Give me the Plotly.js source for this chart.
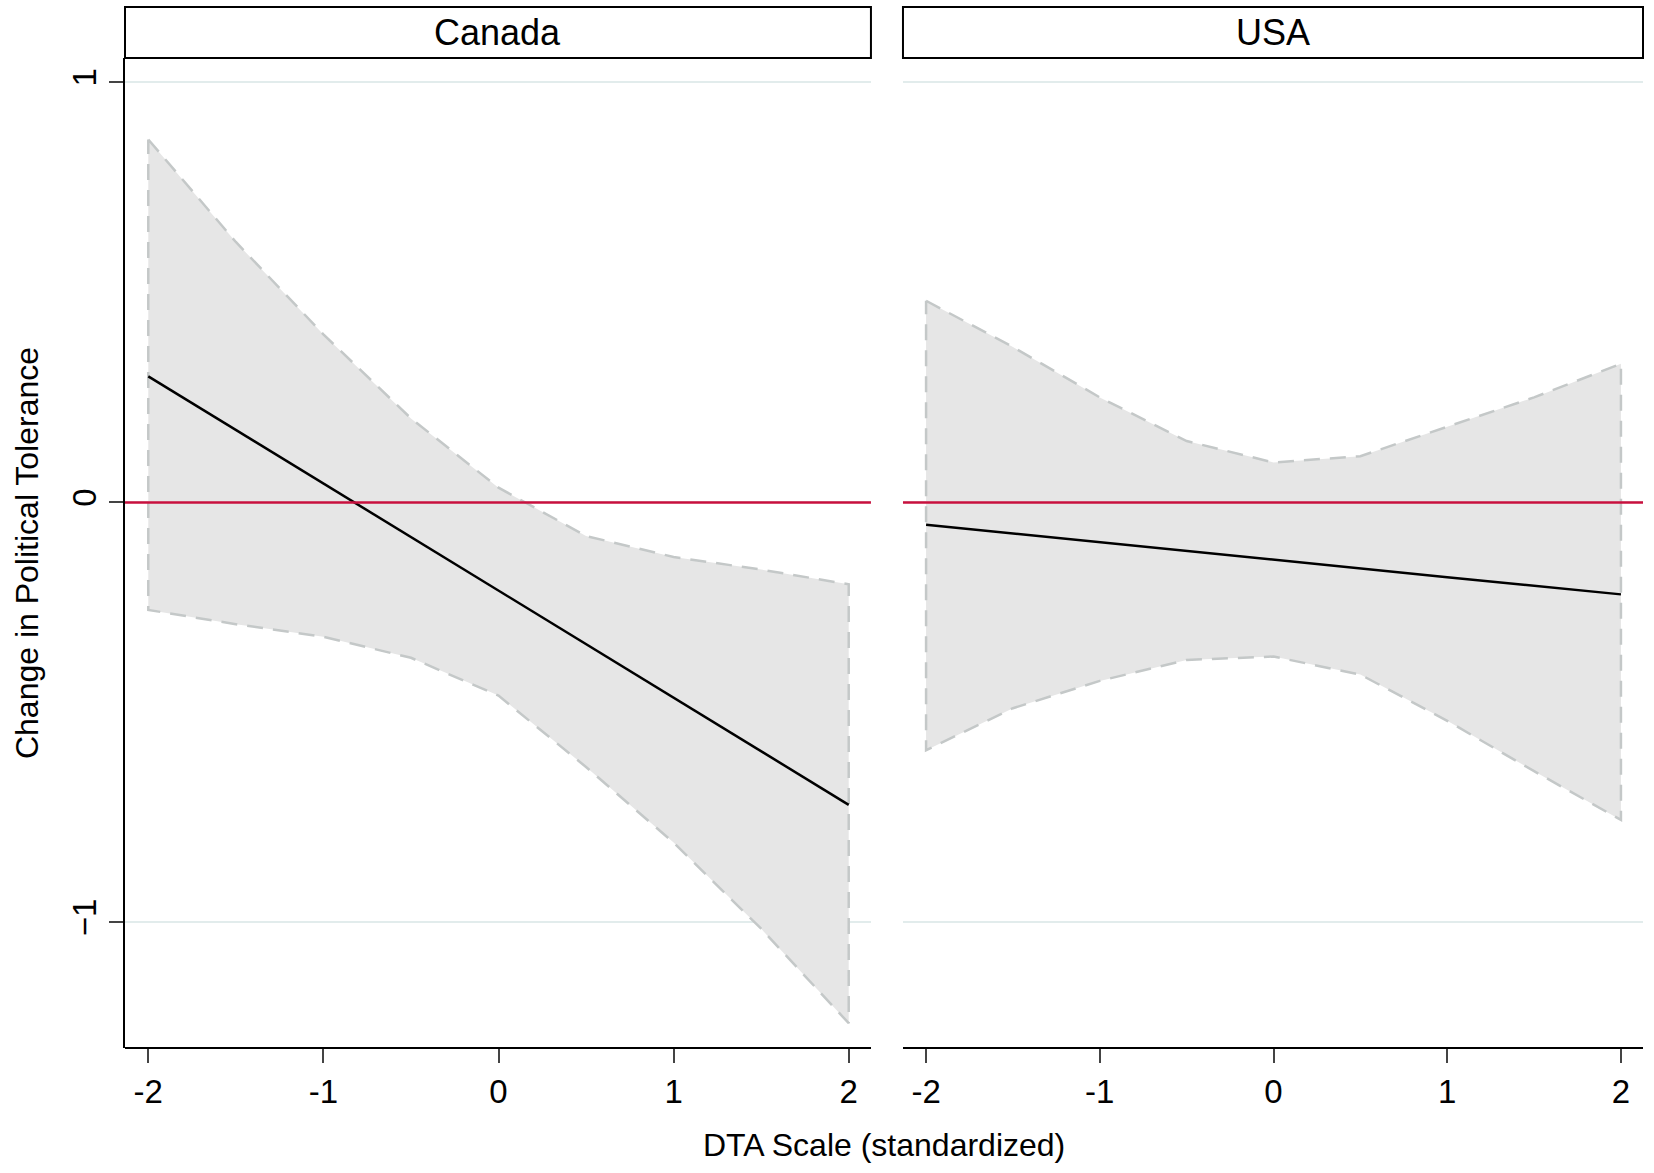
<!DOCTYPE html>
<html>
<head>
<meta charset="utf-8">
<script src="https://cdn.plot.ly/plotly-3.0.1.min.js"></script>
<style>body{margin:0;background:#fff}</style>
</head>
<body>
<div id="chart" style="width:1654px;height:1173px"></div>
<script>
// DTA scale grid points
var dta = [-2, -1.5, -1, -0.5, 0, 0.5, 1, 1.5, 2];

// Canada
var canUpper = [0.864, 0.62, 0.40, 0.20, 0.035, -0.08, -0.13, -0.16, -0.195];
var canLower = [-0.256, -0.29, -0.32, -0.37, -0.46, -0.63, -0.81, -1.015, -1.24];
var canFit = [0.30, 0.045, -0.21, -0.465, -0.72];

// USA
var usaUpper = [0.48, 0.37, 0.25, 0.146, 0.095, 0.11, 0.18, 0.25, 0.33];
var usaLower = [-0.59, -0.49, -0.425, -0.375, -0.367, -0.41, -0.52, -0.64, -0.756];
var usaFit = [-0.053, -0.095, -0.136, -0.178, -0.219];
var fitX = [-2, -1, 0, 1, 2];

var font = 'Liberation Sans, Arial, sans-serif';

function band(upper, lower, xa, ya) {
  var xs = dta.concat(dta.slice().reverse(), [dta[0]]);
  var ys = upper.concat(lower.slice().reverse(), [upper[0]]);
  return {x: xs, y: ys, xaxis: xa, yaxis: ya, type: 'scatter', mode: 'lines',
    fill: 'toself', fillcolor: '#e6e6e6',
    line: {color: '#c4c8c8', width: 2.5, dash: '16px,10px'}, hoverinfo: 'skip'};
}
function fit(ys, xa, ya) {
  return {x: fitX, y: ys, xaxis: xa, yaxis: ya, type: 'scatter', mode: 'lines',
    line: {color: '#000', width: 2.5}};
}

var data = [
  band(canUpper, canLower, 'x', 'y'), fit(canFit, 'x', 'y'),
  band(usaUpper, usaLower, 'x2', 'y2'), fit(usaFit, 'x2', 'y2')
];

var xbase = {range: [-2.133, 2.127], tickvals: [-2, -1, 0, 1, 2], ticktext: ['-2', '-1', '0', '1', '2'],
  showline: true, linecolor: '#000', linewidth: 2, ticks: 'outside', ticklen: 14, tickwidth: 2,
  showgrid: false, zeroline: false, tickfont: {size: 33, family: font, color: '#000'}, anchor: 'free', position: 0};
var ybase = {range: [-1.299, 1.058], tickvals: [-1, 0, 1], showgrid: true, gridcolor: '#e2ecec', gridwidth: 2,
  zeroline: false, domain: [0, 1]};

var layout = {
  width: 1654, height: 1173, showlegend: false,
  paper_bgcolor: '#fff', plot_bgcolor: '#fff',
  margin: {l: 125, r: 11, t: 58, b: 125},
  xaxis: Object.assign({}, xbase, {domain: [0, 0.4914]}),
  xaxis2: Object.assign({}, xbase, {domain: [0.5125, 1]}),
  yaxis: Object.assign({}, ybase, {anchor: 'x', showline: true, linecolor: '#000', linewidth: 2,
    ticks: 'outside', ticklen: 14, tickwidth: 2, tickangle: -90,
    tickfont: {size: 33, family: font, color: '#000'},
    title: {text: 'Change in Political Tolerance', font: {size: 32, family: font, color: '#000'}, standoff: 18}}),
  yaxis2: Object.assign({}, ybase, {anchor: 'x2', showticklabels: false, showline: false}),
  shapes: [
    {type: 'line', xref: 'x domain', yref: 'y', x0: 0, x1: 1, y0: 0, y1: 0, line: {color: '#c8103e', width: 2.5}},
    {type: 'line', xref: 'x2 domain', yref: 'y2', x0: 0, x1: 1, y0: 0, y1: 0, line: {color: '#c8103e', width: 2.5}},
    {type: 'rect', xref: 'x domain', yref: 'paper', x0: 0, x1: 1, y0: 1.0, y1: 1.0515, line: {color: '#000', width: 2}, fillcolor: '#fff'},
    {type: 'rect', xref: 'x2 domain', yref: 'paper', x0: 0, x1: 1, y0: 1.0, y1: 1.0515, line: {color: '#000', width: 2}, fillcolor: '#fff'}
  ],
  annotations: [
    {text: 'Canada', xref: 'x domain', yref: 'paper', x: 0.5, y: 1.0257, yanchor: 'middle', showarrow: false, font: {size: 36, family: font, color: '#000'}},
    {text: 'USA', xref: 'x2 domain', yref: 'paper', x: 0.5, y: 1.0257, yanchor: 'middle', showarrow: false, font: {size: 36, family: font, color: '#000'}},
    {text: 'DTA Scale (standardized)', xref: 'paper', yref: 'paper', x: 0.5, y: -0.098, yanchor: 'middle', showarrow: false, font: {size: 32, family: font, color: '#000'}}
  ]
};

Plotly.newPlot('chart', data, layout, {displayModeBar: false});
</script>
</body>
</html>
